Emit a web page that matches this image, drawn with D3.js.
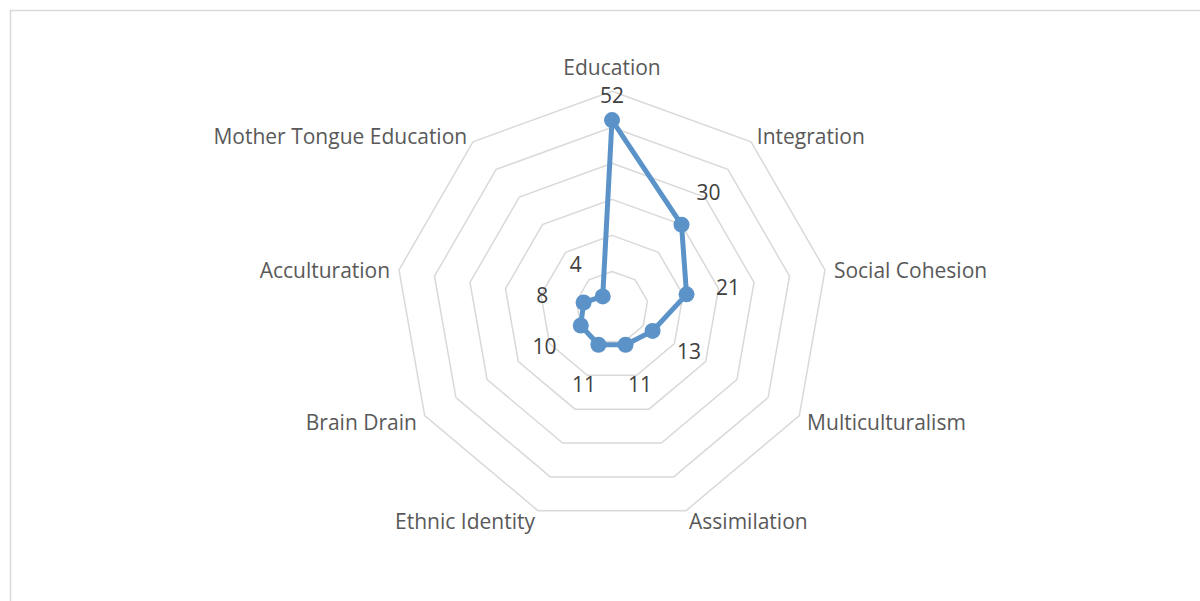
<!DOCTYPE html>
<html>
<head>
<meta charset="utf-8">
<script src="https://cdn.jsdelivr.net/npm/d3@7/dist/d3.min.js"></script>
<style>
  html, body { margin: 0; padding: 0; background: #fff; }
  svg { display: block; }
  text { font-family: "Open Sans", "Liberation Sans", sans-serif; }
</style>
</head>
<body>
<svg id="chart" width="1200" height="601"></svg>
<script>
const categories = ["Education", "Integration", "Social Cohesion", "Multiculturalism", "Assimilation",
                    "Ethnic Identity", "Brain Drain", "Acculturation", "Mother Tongue Education"];
const values = [52, 30, 21, 13, 11, 11, 10, 8, 4];
const gridTicks = [10, 20, 30, 40, 50, 60];

const svg = d3.select("#chart");
const W = 1200, H = 601;
const cx = 612, cy = 307.5, R = 216.3;
const FS = 21;

svg.append("rect").attr("x", 10.5).attr("y", 10.5).attr("width", W).attr("height", H)
  .attr("fill", "#fff").attr("stroke", "#d9d9d9").attr("stroke-width", 1.5);

const rScale = d3.scaleLinear().domain([0, d3.max(gridTicks)]).range([0, R]);
const angle = d3.scaleLinear().domain([0, categories.length]).range([0, 2 * Math.PI]);

const g = svg.append("g").attr("transform", `translate(${cx},${cy})`);

const pt = (i, v) => {
  const a = angle(i), r = rScale(v);
  return [r * Math.sin(a), -r * Math.cos(a)];
};

// grid rings
const lineClosed = d3.line().curve(d3.curveLinearClosed);
g.selectAll("path.grid").data(gridTicks).join("path")
  .attr("class", "grid")
  .attr("d", t => lineClosed(categories.map((c, i) => pt(i, t))))
  .attr("fill", "none").attr("stroke", "#d9d9d9").attr("stroke-width", 1.5);

// category labels
const labR = R + 9;
g.selectAll("text.cat").data(categories).join("text")
  .attr("class", "cat")
  .each(function (c, i) {
    const a = angle(i);
    const s = Math.sin(a), co = Math.cos(a);
    const x = labR * s, y = -labR * co;
    const sel = d3.select(this);
    if (Math.abs(s) < 1e-6) {
      sel.attr("x", x).attr("y", y - 7).attr("text-anchor", "middle");
    } else {
      sel.attr("x", x).attr("y", y + 2 + 7.5).attr("text-anchor", s > 0 ? "start" : "end");
    }
  })
  .attr("font-size", FS).attr("fill", "#595959")
  .text(d => d);

// series line
g.append("path")
  .attr("d", lineClosed(values.map((v, i) => pt(i, v))))
  .attr("fill", "none").attr("stroke", "#5b93c9").attr("stroke-width", 5)
  .attr("stroke-linejoin", "round");

g.selectAll("circle.pt").data(values).join("circle")
  .attr("class", "pt")
  .attr("cx", (v, i) => pt(i, v)[0])
  .attr("cy", (v, i) => pt(i, v)[1])
  .attr("r", 8).attr("fill", "#5b93c9");

// data labels
g.selectAll("text.val").data(values).join("text")
  .attr("class", "val")
  .each(function (v, i) {
    const a = angle(i);
    const s = Math.sin(a), co = Math.cos(a);
    const [px, py] = pt(i, v);
    const d = Math.abs(s) < 1e-6 ? 25 : 42;
    d3.select(this).attr("x", px + d * s).attr("y", py - d * co + 7.5).attr("text-anchor", "middle");
  })
  .attr("font-size", FS).attr("fill", "#404040")
  .text(d => d);
</script>
</body>
</html>
